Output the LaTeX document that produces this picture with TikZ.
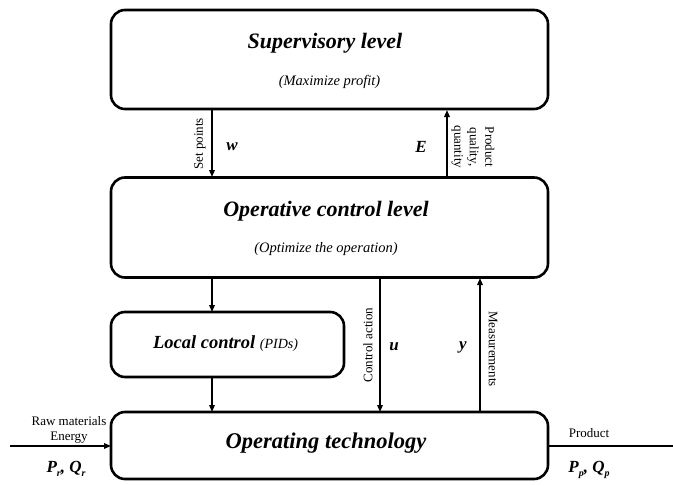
\documentclass[tikz,border=0pt]{standalone}
\usepackage{fontspec}
\setmainfont{Liberation Serif}
\usetikzlibrary{arrows.meta}
\newcommand{\lowsub}[1]{\raisebox{-4.5pt}{\fontsize{10}{10}\selectfont #1}}
\begin{document}
\begin{tikzpicture}[x=1pt,y=-1pt,
  blk/.style={draw,line width=2.6pt,rounded corners=14pt},
  con/.style={line width=1.6pt,-{Triangle[length=7pt,width=5.5pt]}},
  small/.style={font=\fontsize{13}{15.5}\selectfont,inner sep=0pt},
  sym/.style={font=\fontsize{17}{18}\selectfont\bfseries\itshape,inner sep=0pt}]
\useasboundingbox (0,0) rectangle (673,485);
% boxes
\node[blk,minimum width=437pt,minimum height=99pt] (sup) at (329.5,59.5) {};
\node[blk,minimum width=437pt,minimum height=100pt] (op) at (329.5,227.5) {};
\node[blk,minimum width=233pt,minimum height=65pt] (loc) at (227.5,344.5) {};
\node[blk,minimum width=437pt,minimum height=67pt] (tech) at (329.5,445.5) {};
% texts in boxes
\node[font=\fontsize{22}{24}\selectfont\bfseries\itshape] (t1) at (325,43) {Supervisory level};
\node[font=\fontsize{14.5}{16}\selectfont\itshape] (t2) at (329.5,82) {(Maximize profit)};
\node[font=\fontsize{22}{24}\selectfont\bfseries\itshape] (t3) at (326,211) {Operative control level};
\node[font=\fontsize{14.5}{16}\selectfont\itshape] (t4) at (326,249) {(Optimize the operation)};
\node[font=\fontsize{18.5}{19}\selectfont\bfseries\itshape] (t5) at (225.5,344) {Local control {\fontsize{14}{15}\selectfont\mdseries(PIDs)}};
\node[font=\fontsize{22.5}{24}\selectfont\bfseries\itshape] (t6) at (326,443) {Operating technology};
% connectors
\coordinate (a1) at (212,110); \coordinate (a2) at (212,177);
\draw[con] (a1) -- (a2);
\coordinate (b1) at (447,177); \coordinate (b2) at (447,110);
\draw[con] (b1) -- (b2);
\coordinate (c1) at (212,278); \coordinate (c2) at (212,312);
\draw[con] (c1) -- (c2);
\coordinate (d1) at (212,377); \coordinate (d2) at (212,412);
\draw[con] (d1) -- (d2);
\coordinate (e1) at (380,278); \coordinate (e2) at (380,412);
\draw[con] (e1) -- (e2);
\coordinate (f1) at (480,412); \coordinate (f2) at (480,278);
\draw[con] (f1) -- (f2);
\coordinate (in) at (10,446); \coordinate (inE) at (111,446);
\draw[con] (in) -- (inE);
\coordinate (outS) at (548,446); \coordinate (out) at (673,446);
\draw[line width=1.6pt] (outS) -- (out);
% labels
\node[small,rotate=90] (l1) at (200,144) {Set points};
\node[sym] (w) at (232,147) {w};
\node[sym] (E) at (421,147) {E};
\node[small,rotate=-90,align=center] (l2) at (473,147) {Product\\quality,\\quantity};
\node[small,rotate=90] (l3) at (368,345) {Control action};
\node[sym] (u) at (394,347) {u};
\node[sym] (y) at (463,347) {y};
\node[small,rotate=-90] (l4) at (493,349) {Measurements};
\node[small,align=center] (l5) at (69,430) {Raw materials\\Energy};
\node[sym,anchor=base] (pr) at (66,472) {P\lowsub{r}, Q\lowsub{r}};
\node[small] (l6) at (589,433) {Product};
\node[sym,anchor=base] (pp) at (589,472) {P\lowsub{p}, Q\lowsub{p}};
\end{tikzpicture}
\end{document}
